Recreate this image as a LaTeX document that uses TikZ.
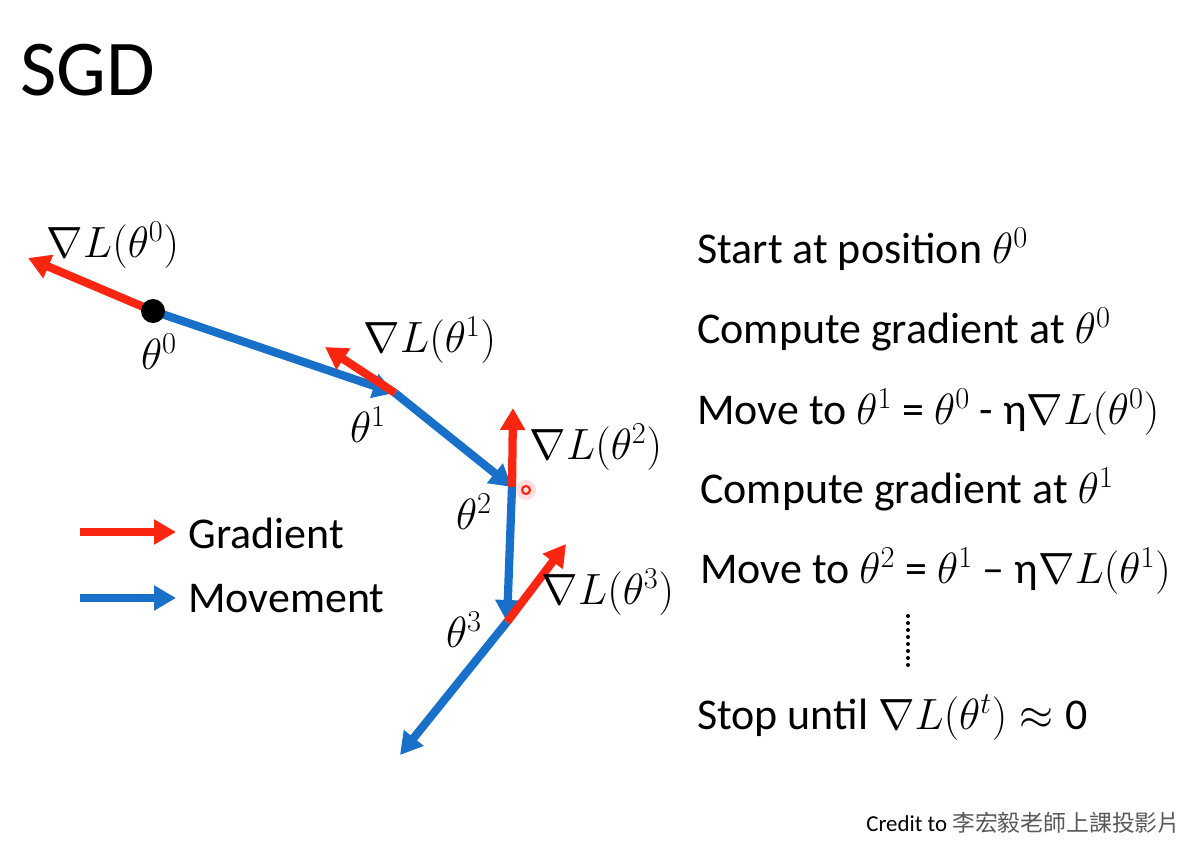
\documentclass[tikz,border=0pt]{standalone}
\usepackage{fontspec}
\setmainfont{Carlito}
\newfontfamily\cjk{Noto Sans CJK TC}
\usetikzlibrary{arrows.meta}
\definecolor{gradred}{RGB}{250,38,18}
\definecolor{moveblue}{RGB}{24,112,200}

\begin{document}
\begin{tikzpicture}[
      x=0.02cm, y=-0.02cm,
      grad/.style={draw=gradred, line width=4.7pt,
                   -{Triangle[length=0.44cm, width=0.48cm]}},
      move/.style={draw=moveblue, line width=4.7pt,
                   -{Triangle[length=0.44cm, width=0.48cm]}},
      step txt/.style={anchor=base west, inner sep=0pt,
                       font=\fontsize{25}{28}\selectfont},
      lbl/.style={inner sep=0pt, font=\fontsize{26}{28}\selectfont}
  ]
      \useasboundingbox (0,0) rectangle (1194,842);

      \node (title) [anchor=base west, inner sep=0pt,
                     font=\fontsize{45}{50}\selectfont] at (20,95) {SGD};

      % positions of theta
      \coordinate (t0) at (153,311);
      \coordinate (t1) at (395,393);
      \coordinate (t2) at (512,487);
      \coordinate (t3) at (507,622);
      \coordinate (t4) at (400,755);

      % tips of the gradients
      \coordinate (g0) at (28,258);
      \coordinate (g1) at (325,347);
      \coordinate (g2) at (513,408);
      \coordinate (g3) at (566,544);

      \draw [grad] (t0) -- (g0);
      \draw [move] (t0) -- (t1);
      \draw [move] (t1) -- (t2);
      \draw [grad] (t1) -- (g1);
      \draw [move] (t2) -- (t3);
      \draw [grad] (t2) -- (g2);
      \draw [move] (t3) -- (t4);
      \draw [grad] (t3) -- (g3);
      \fill (t0) circle (12);

      % pointer mark
      \fill [gradred!15] (526,490) circle (10);
      \draw [gradred, line width=1.2pt] (526,490) circle (4);

      \node (lg0) [lbl] at (113,245) {$\nabla L(\theta^0)$};
      \node (lt0) [lbl] at (159,352) {$\theta^0$};
      \node (lg1) [lbl] at (430,340) {$\nabla L(\theta^1)$};
      \node (lt1) [lbl] at (368,425) {$\theta^1$};
      \node (lg2) [lbl] at (596,447) {$\nabla L(\theta^2)$};
      \node (lt2) [lbl] at (474,512) {$\theta^2$};
      \node (lg3) [lbl] at (608,592) {$\nabla L(\theta^3)$};
      \node (lt3) [lbl] at (464,630) {$\theta^3$};

      % legend
      \coordinate (leg0) at (80,532);
      \coordinate (leg1) at (176,532);
      \coordinate (leg2) at (80,598);
      \coordinate (leg3) at (176,598);
      \draw [grad] (leg0) -- (leg1);
      \draw [move] (leg2) -- (leg3);
      \node (gradtxt) [step txt] at (188,548) {Gradient};
      \node (movetxt) [step txt] at (188,612) {Movement};

      % steps
      \node (s1) [step txt] at (697,263) {Start at position $\theta^0$};
      \node (s2) [step txt] at (697,343) {Compute gradient at $\theta^0$};
      \node (s3) [step txt] at (697,424)
          {Move to $\theta^1$ = $\theta^0$ - η$\nabla L(\theta^0)$};
      \node (s4) [step txt] at (700,503) {Compute gradient at $\theta^1$};
      \node (s5) [step txt] at (700,583)
          {Move to $\theta^2$ = $\theta^1$ – η$\nabla L(\theta^1)$};
      \foreach \i in {0,...,7}
          \fill (908,{616+7*\i}) circle (2);
      \node (s6) [step txt] at (697,729)
          {Stop until $\nabla L(\theta^t)\approx{}$0};

      \node (credit) [anchor=base west, inner sep=0pt,
                      font=\fontsize{13}{15}\selectfont] at (866,831)
          {Credit to {\cjk\color{black!65}李宏毅老師上課投影片}};
  \end{tikzpicture}
\end{document}
